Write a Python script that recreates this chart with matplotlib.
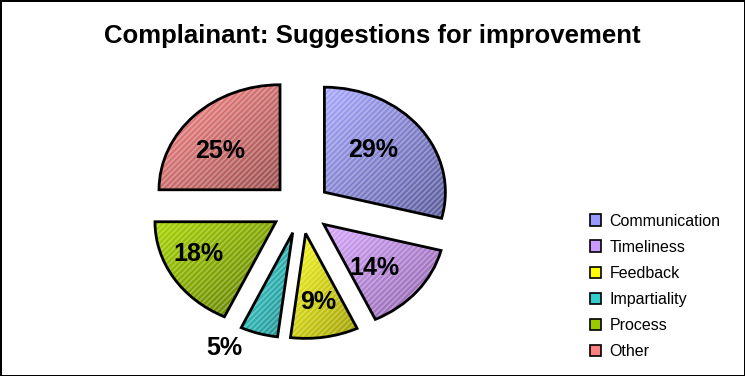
import matplotlib

matplotlib.use("Agg")
import matplotlib.pyplot as plt
import numpy as np
from matplotlib.colors import LinearSegmentedColormap
from matplotlib.patches import Patch, Wedge

# Daten
categories = ["Communication", "Timeliness", "Feedback", "Impartiality", "Process", "Other"]
shares = [29, 14, 9, 5, 18, 25]
light = ["#A8A8FF", "#D8A8FF", "#FFFF22", "#3CDCDC", "#A8D600", "#FF8C8C"]
dark = ["#5A5A9C", "#8A5EA6", "#9C9C00", "#1E8A8A", "#5A7600", "#9A4E4E"]
legend_colors = ["#9999FF", "#CC99FF", "#FFFF00", "#33CCCC", "#99CC00", "#FF8080"]

# Lage der Prozentbeschriftungen (Abstand vom Segmentspitz, Winkelversatz in Grad)
label_dist = [0.57, 0.59, 0.66, 1.24, 0.71, 0.62]
label_turn = [7, -5, 0, -11, -7, 8]

plt.rcParams["font.family"] = ["Liberation Sans", "DejaVu Sans"]
plt.rcParams["hatch.linewidth"] = 1.2

fig = plt.figure(figsize=(7.45, 3.76), dpi=100)
fig.patch.set_edgecolor("black")
fig.patch.set_linewidth(2)

ax = fig.add_axes([0.1604, 0.0559, 0.4872, 0.782])
wedges, texts, autotexts = ax.pie(
    shares, startangle=90, counterclock=False, explode=[0.245] * len(shares),
    autopct="%.0f%%", pctdistance=0.62,
    wedgeprops=dict(linewidth=2, edgecolor="black", facecolor="none", zorder=2),
    textprops=dict(fontsize=18, fontweight="bold", color="black"),
)

# Verlauf + feine Schraffur je Segment
grad = np.add.outer(np.linspace(0, 1, 100), np.linspace(0, 1, 100)) / 2
for w, c0, c1 in zip(wedges, light, dark):
    bb = w.get_path().get_extents()
    cmap = LinearSegmentedColormap.from_list("g", [c0, c1])
    im = ax.imshow(grad, cmap=cmap, extent=[bb.x0, bb.x1, bb.y0, bb.y1],
                   origin="upper", aspect="auto", zorder=1.5, interpolation="bilinear")
    im.set_clip_path(w)
    ax.add_patch(Wedge(w.center, w.r, w.theta1, w.theta2, facecolor="none",
                       edgecolor=(1, 1, 1, 0.3), hatch="//////", linewidth=0, zorder=1.7))

# Beschriftungen wie im Original verschieben
for w, t, d, turn in zip(wedges, autotexts, label_dist, label_turn):
    a = np.deg2rad((w.theta1 + w.theta2) / 2 + turn)
    t.set_position((w.center[0] + d * np.cos(a), w.center[1] + d * np.sin(a)))

ax.set_aspect("auto")
ax.set_xlim(-1.5, 1.5)
ax.set_ylim(-1.4, 1.4)
ax.axis("off")

fig.text(0.5, 1 - 36 / 376, "Complainant: Suggestions for improvement",
         ha="center", va="center", fontsize=18.5, fontweight="bold")

handles = [Patch(facecolor=c, edgecolor="black", linewidth=1.2) for c in legend_colors]
fig.legend(handles, categories, loc="upper left", bbox_to_anchor=(0.772, 0.47),
           frameon=False, fontsize=11.5, labelspacing=0.69, handlelength=0.7,
           handleheight=0.7, handletextpad=0.55)

fig.savefig("out.png", dpi=100)
